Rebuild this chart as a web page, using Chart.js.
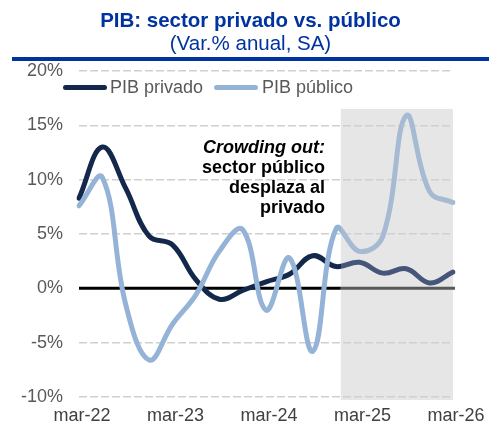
<!DOCTYPE html>
<html>
<head>
<meta charset="utf-8">
<script src="https://cdn.jsdelivr.net/npm/chart.js@4"></script>
<style>
  body { margin: 0; background: #fff; font-family: "Liberation Sans", Arial, sans-serif; }
  #wrap { position: relative; width: 501px; height: 429px; overflow: hidden; }
  #graph { position: absolute; left: 0; top: 0; }
  .title { position: absolute; left: 0; width: 501px; text-align: center; color: #0033a0; font-size: 20.5px; line-height: 23px; }
  .rule { position: absolute; left: 12px; width: 477px; top: 57px; height: 4px; background: #0033a0; }
  .legend { position: absolute; top: 77px; height: 20px; font-size: 18px; line-height: 20px; color: #595959; white-space: nowrap; }
  .swatch { position: absolute; top: 85px; width: 44px; height: 5px; border-radius: 3px; }
  .note { position: absolute; right: 176px; top: 137px; text-align: right; font-size: 18px; line-height: 20px; font-weight: bold; color: #000; }
</style>
</head>
<body>
<div id="wrap">
  <canvas id="graph" width="501" height="429"></canvas>
  <div class="title" style="top:8px;font-weight:bold;">PIB: sector privado vs. público</div>
  <div class="title" style="top:31px;">(Var.% anual, SA)</div>
  <div class="rule"></div>
  <div class="swatch" style="left:63px;background:#14284b;"></div>
  <div class="legend" style="left:110px;">PIB privado</div>
  <div class="swatch" style="left:214px;background:#95b3d7;"></div>
  <div class="legend" style="left:262px;">PIB público</div>
  <div class="note"><i>Crowding out:</i><br>sector público<br>desplaza al<br>privado</div>
</div>
<script>
// trimestres mar-22 .. mar-26
const quarters = ['mar-22', 'jun-22', 'sep-22', 'dic-22', 'mar-23', 'jun-23', 'sep-23', 'dic-23',
  'mar-24', 'jun-24', 'sep-24', 'dic-24', 'mar-25', 'jun-25', 'sep-25', 'dic-25', 'mar-26'];
const pibPrivado = [8.3, 13.0, 9.2, 4.8, 4.0, 0.8, -1.0, -0.2, 0.6, 1.3, 3.0, 2.0, 2.4, 1.4, 1.8, 0.5, 1.5];
const pibPublico = [7.6, 10.2, -1.5, -6.6, -3.3, -0.6, 3.4, 5.4, -2.0, 2.8, -5.8, 5.5, 3.4, 4.8, 15.9, 8.9, 7.9];
const yTicks = [-10, -5, 0, 5, 10, 15, 20];
// pronóstico sombreado desde aquí (índice de trimestre)
const shadeFrom = 11.2;
const shadeTop = 16.5;

function splitColor(outside, inside) {
  return (c) => {
    const chart = c.chart;
    const area = chart.chartArea;
    if (!area) return outside;
    const x = chart.scales.x.getPixelForValue(shadeFrom);
    const f = Math.min(1, Math.max(0, (x - area.left) / (area.right - area.left)));
    const g = chart.ctx.createLinearGradient(area.left, 0, area.right, 0);
    g.addColorStop(0, outside);
    g.addColorStop(f, outside);
    g.addColorStop(f, inside);
    g.addColorStop(1, inside);
    return g;
  };
}

const shading = {
  id: 'shading',
  beforeDraw(chart) {
    const { ctx, chartArea, scales } = chart;
    const x0 = scales.x.getPixelForValue(shadeFrom);
    const x1 = scales.x.getPixelForValue(quarters.length - 1);
    const y0 = scales.y.getPixelForValue(shadeTop);
    ctx.save();
    ctx.fillStyle = '#e6e6e6';
    ctx.fillRect(x0, y0, x1 - x0, chartArea.bottom + 3 - y0);
    ctx.restore();
  },
  beforeDatasetsDraw(chart) {
    const { ctx, chartArea, scales } = chart;
    const y = scales.y.getPixelForValue(0);
    const xs = scales.x.getPixelForValue(shadeFrom);
    ctx.save();
    ctx.lineWidth = 3;
    ctx.strokeStyle = '#000';
    ctx.beginPath();
    ctx.moveTo(chartArea.left, y);
    ctx.lineTo(xs, y);
    ctx.stroke();
    ctx.strokeStyle = '#595959';
    ctx.beginPath();
    ctx.moveTo(xs, y);
    ctx.lineTo(chartArea.right + 2, y);
    ctx.stroke();
    ctx.restore();
  }
};

new Chart(document.getElementById('graph'), {
  type: 'line',
  data: {
    labels: quarters,
    datasets: [{
      label: 'PIB público',
      data: pibPublico,
      borderColor: splitColor('#95b3d7', '#a7bad3'),
      borderWidth: 5,
      pointRadius: 0,
      tension: 0.4,
      borderCapStyle: 'round'
    }, {
      label: 'PIB privado',
      data: pibPrivado,
      borderColor: splitColor('#14284b', '#46557a'),
      borderWidth: 5,
      pointRadius: 0,
      tension: 0.4,
      borderCapStyle: 'round'
    }]
  },
  options: {
    responsive: false,
    animation: false,
    layout: { padding: { left: 0, right: 48, top: 71, bottom: 0 } },
    plugins: { legend: { display: false }, tooltip: { enabled: false } },
    scales: {
      x: {
        afterFit: (axis) => { axis.height = 32; },
        grid: { display: false, drawTicks: false },
        border: { display: false },
        ticks: {
          autoSkip: false,
          maxRotation: 0,
          padding: 8,
          labelOffset: 3,
          color: '#404040',
          font: { family: 'Liberation Sans', size: 18 },
          callback: (v, i) => (i % 4 === 0 ? quarters[i] : '')
        }
      },
      y: {
        min: -10,
        max: 20,
        afterFit: (axis) => { axis.width = 79; },
        afterBuildTicks: (axis) => { axis.ticks = yTicks.map(v => ({ value: v })); },
        grid: {
          color: (c) => (c.tick && c.tick.value === 0 ? 'rgba(0,0,0,0)' : '#d0d0d0'),
          lineWidth: 1.5,
          drawTicks: false
        },
        border: { display: false, dash: [8, 3] },
        ticks: {
          padding: 16,
          color: '#595959',
          font: { family: 'Liberation Sans', size: 18 },
          callback: (v) => v + '%'
        }
      }
    }
  },
  plugins: [shading]
});
</script>
</body>
</html>
